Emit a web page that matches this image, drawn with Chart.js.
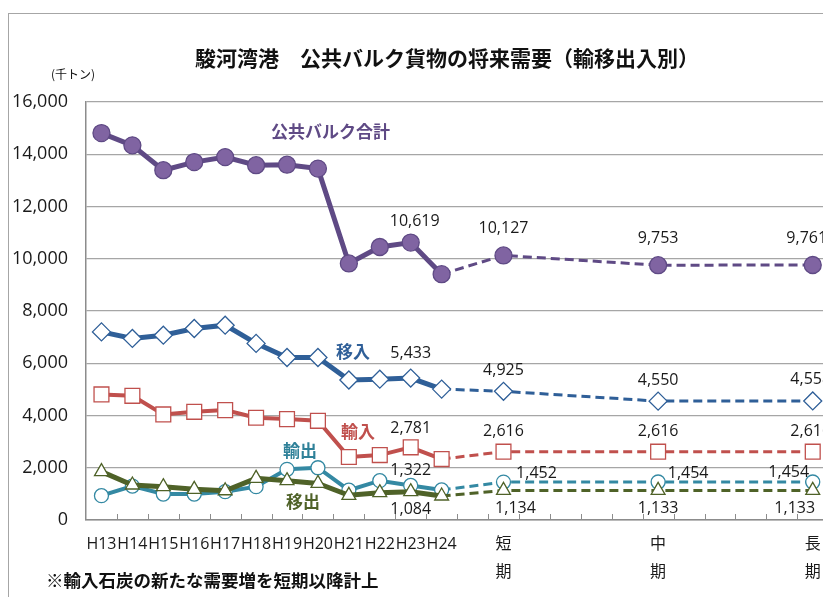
<!DOCTYPE html>
<html><head><meta charset="utf-8">
<script src="https://cdn.jsdelivr.net/npm/chart.js@4.4.1/dist/chart.umd.min.js"></script>
<style>
html,body{margin:0;padding:0;overflow:hidden;background:#fff;width:823px;height:597px;}
#frame{position:absolute;left:8px;top:13px;width:900px;height:700px;border-left:1.5px solid #a6a6a6;border-top:1.5px solid #a6a6a6;}
canvas{position:absolute;left:0;top:0;}
</style></head>
<body>
<div id="frame"></div>
<canvas id="c" width="840" height="597"></canvas>
<script>
// ---- data ----
const yearLabels = ['H13','H14','H15','H16','H17','H18','H19','H20','H21','H22','H23','H24'];
const termLabels = [['短','期'],['中','期'],['長','期']];
const seriesNames = ['公共バルク合計','移入','輸入','輸出','移出'];
const totalActual = [14810,14340,13390,13700,13890,13580,13600,13450,9820,10450,10619,9410];
const totalForecast = [10127,9753,9761];
const inDomActual = [7200,6950,7075,7330,7457,6760,6220,6220,5360,5390,5433,5010];
const inDomForecast = [4925,4550,4558];
const importActual = [4806,4754,4042,4140,4206,3912,3862,3797,2410,2485,2781,2333];
const importForecast = [2616,2616,2616];
const exportActual = [930,1300,994,994,1083,1275,1940,2000,1140,1505,1322,1150];
const exportForecast = [1452,1454,1454];
const outDomActual = [1850,1340,1275,1175,1120,1595,1505,1400,945,1045,1084,918];
const outDomForecast = [1134,1133,1133];
const yTicks = [0,2000,4000,6000,8000,10000,12000,14000,16000];

// ---- category layout (blank slots between terms) ----
const termSlots = [13,18,23];
const nCats = 24;
const categories = [];
for (let i=0;i<nCats;i++) categories.push('');
yearLabels.forEach((l,i)=>categories[i]=l);
termSlots.forEach((s,k)=>categories[s]=termLabels[k]);
function build(actual, forecast){
  const arr = new Array(nCats).fill(null);
  actual.forEach((v,i)=>arr[i]=v);
  forecast.forEach((v,k)=>arr[termSlots[k]]=v);
  return arr;
}
const lastActual = yearLabels.length-1;
const dashSeg = {
  borderDash: ctx => ctx.p0DataIndex >= lastActual ? [9,5] : undefined,
  borderWidth: ctx => ctx.p0DataIndex >= lastActual ? 3 : undefined
};
const styles = [
  {color:'#5f4a85', fill:'#8064a2', shape:'circle', r:8.5, w:5, order:0},
  {color:'#2f5f98', fill:'#ffffff', shape:'rectRot', r:9, w:5, order:3},
  {color:'#c0504d', fill:'#ffffff', shape:'rect', r:10.5, w:4, order:4},
  {color:'#3489a3', fill:'#ffffff', shape:'circle', r:7, w:4, order:2},
  {color:'#4f6228', fill:'#ffffff', shape:'triangle', r:8, w:5, order:1}
];
const seriesData = [
  build(totalActual,totalForecast),
  build(inDomActual,inDomForecast),
  build(importActual,importForecast),
  build(exportActual,exportForecast),
  build(outDomActual,outDomForecast)
];
const datasets = seriesData.map((d,k)=>({
  label: seriesNames[k], data: d, spanGaps: true,
  borderColor: styles[k].color, borderWidth: styles[k].w,
  pointStyle: styles[k].shape, pointRadius: styles[k].r, pointHoverRadius: styles[k].r,
  pointBackgroundColor: styles[k].fill, pointBorderColor: styles[k].color, pointBorderWidth: 1.3,
  segment: dashSeg, order: styles[k].order, tension: 0
}));

const dataLabels = [
 {ds:0,i:10,dx:4,dy:-21},{ds:0,i:13,dx:0,dy:-27},{ds:0,i:18,dx:0,dy:-27},{ds:0,i:23,dx:-6,dy:-27},
 {ds:1,i:10,dx:0,dy:-25},{ds:1,i:13,dx:0,dy:-21},{ds:1,i:18,dx:0,dy:-21},{ds:1,i:23,dx:-2,dy:-21},
 {ds:2,i:10,dx:0,dy:-19},{ds:2,i:13,dx:0,dy:-20},{ds:2,i:18,dx:0,dy:-20},{ds:2,i:23,dx:-2,dy:-20},
 {ds:3,i:10,dx:0,dy:-15},{ds:3,i:13,dx:33,dy:-9},{ds:3,i:18,dx:30,dy:-9},{ds:3,i:23,dx:-24,dy:-10},
 {ds:4,i:10,dx:0,dy:18},{ds:4,i:13,dx:12,dy:18},{ds:4,i:18,dx:0,dy:18},{ds:4,i:23,dx:-18,dy:18}
];
const numFont = "16px 'Open Sans','Noto Sans CJK JP',sans-serif";
const jpFont = "'Noto Sans CJK JP',sans-serif";

const textPlugin = {
  id:'texts',
  afterDraw(chart){
    const ctx = chart.ctx;
    const ca = chart.chartArea;
    ctx.save();
    // inner tick marks on x axis
    const w = (ca.right-ca.left)/nCats;
    ctx.strokeStyle='#8c8c8c'; ctx.lineWidth=1;
    for(let i=1;i<=nCats;i++){
      const x=Math.round(ca.left+i*w)+0.5;
      ctx.beginPath(); ctx.moveTo(x,ca.bottom); ctx.lineTo(x,ca.bottom-6); ctx.stroke();
    }
    // title
    ctx.fillStyle='#111'; ctx.textBaseline='middle'; ctx.textAlign='center';
    ctx.font="bold 21px "+jpFont;
    ctx.fillText('駿河湾港　公共バルク貨物の将来需要（輸移出入別）',447,58);
    ctx.font="12px "+jpFont; ctx.textAlign='left';
    ctx.fillText('(千トン)',51,74);
    ctx.font="bold 17.5px "+jpFont;
    ctx.fillText('※輸入石炭の新たな需要増を短期以降計上',46,580);
    // series names
    const names=[
      {t:'公共バルク合計',x:271,y:132,c:'#5f4a85'},
      {t:'移入',x:336,y:352,c:'#2f5f98'},
      {t:'輸入',x:341,y:432,c:'#c0504d'},
      {t:'輸出',x:283,y:451,c:'#2f8199'},
      {t:'移出',x:286,y:502,c:'#4f6228'}
    ];
    ctx.font="bold 17px "+jpFont;
    names.forEach(n=>{ctx.fillStyle=n.c; ctx.fillText(n.t,n.x,n.y);});
    // data labels
    ctx.font=numFont; ctx.fillStyle='#1a1a1a'; ctx.textAlign='center';
    dataLabels.forEach(l=>{
      const pt = chart.getDatasetMeta(l.ds).data[l.i];
      const v = chart.data.datasets[l.ds].data[l.i];
      ctx.fillText(v.toLocaleString('en-US'), pt.x+l.dx, pt.y+l.dy);
    });
    ctx.restore();
  }
};

new Chart(document.getElementById('c'),{
  type:'line',
  data:{labels:categories, datasets},
  options:{
    responsive:false, animation:false, devicePixelRatio:1,
    layout:{padding:{left:0,right:10,top:102,bottom:0}},
    plugins:{legend:{display:false}, tooltip:{enabled:false}, title:{display:false}},
    scales:{
      x:{
        offset:true,
        grid:{display:false, drawTicks:false},
        border:{display:true,color:'#8c8c8c',width:1.5},
        ticks:{autoSkip:false,maxRotation:0,minRotation:0,padding:10,color:'#1a1a1a',
          font:{family:"'Open Sans','Noto Sans CJK JP',sans-serif",size:16,lineHeight:1.75}},
        afterFit(s){s.height=77;}
      },
      y:{
        min:0,max:16000,
        afterBuildTicks(s){s.ticks=yTicks.map(v=>({value:v}));},
        grid:{color:'#a6a6a6',lineWidth:1.2,drawTicks:false},
        border:{display:true,color:'#8c8c8c',width:1.5},
        ticks:{padding:18,color:'#1a1a1a',font:{family:"'Open Sans',sans-serif",size:18},
          callback:v=>v.toLocaleString('en-US')},
        afterFit(s){s.width=86;}
      }
    }
  },
  plugins:[textPlugin]
});
</script>
</body></html>
